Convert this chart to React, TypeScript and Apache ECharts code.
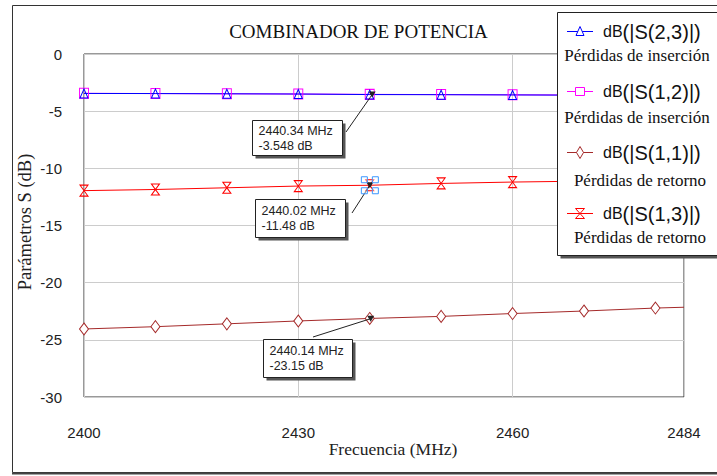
import React, { useEffect, useRef } from "react";
import * as echarts from "echarts";

// ---- data ----
const freqMHz = [2400, 2410, 2420, 2430, 2440, 2450, 2460, 2470, 2480, 2484];
const s23 = [-3.45, -3.46, -3.48, -3.5, -3.548, -3.56, -3.58, -3.6, -3.62, -3.63];
const s12 = [-3.44, -3.46, -3.48, -3.5, -3.53, -3.55, -3.57, -3.59, -3.61, -3.62];
const s11 = [-24.05, -23.85, -23.6, -23.35, -23.13, -22.95, -22.7, -22.48, -22.22, -22.15];
const s13 = [-11.95, -11.85, -11.7, -11.55, -11.48, -11.32, -11.2, -11.12, -11.05, -11.02];

const seriesNames = ["dB(|S(2,3)|)", "dB(|S(1,2)|)", "dB(|S(1,1)|)", "dB(|S(1,3)|)"];
const seriesNotes = ["Pérdidas de inserción", "Pérdidas de inserción", "Pérdidas de retorno", "Pérdidas de retorno"];
const seriesColors = ["#0000ff", "#ff00ff", "#a52a2a", "#ff0000"];

const markerFreq = [2440.34, 2440.02, 2440.14];
const markerVal = [-3.548, -11.48, -23.15];
const markerLabels = ["2440.34 MHz\n-3.548 dB", "2440.02 MHz\n-11.48 dB", "2440.14 MHz\n-23.15 dB"];

const titleText = "COMBINADOR DE POTENCIA";
const xName = "Frecuencia (MHz)";
const yName = "Parámetros S (dB)";

const HOURGLASS = "path://M0,0L10,0L0,10L10,10Z";

function mkData(vals: number[]) {
  return freqMHz.map((f, i) =>
    i === freqMHz.length - 1 ? { value: [f, vals[i]], symbol: "none" } : [f, vals[i]]
  );
}

const SANS = "Liberation Sans";
const SERIF = "Liberation Serif";

export default function App() {
  const ref = useRef<HTMLDivElement>(null);
  useEffect(() => {
    if (!ref.current) return;
    const chart = echarts.init(ref.current, null, { renderer: "svg" });
    const baseSeries = (name: string, vals: number[], color: string, symbol: string, size: number[], fill: string) => ({
      type: "line",
      name,
      data: mkData(vals),
      symbol,
      symbolSize: size,
      showAllSymbol: true,
      silent: true,
      itemStyle: { color: fill, borderColor: color, borderWidth: 1 },
      lineStyle: { color, width: 1 },
      emphasis: { disabled: true },
    });
    const option: any = {
      animation: false,
      backgroundColor: "#fff",
      title: {
        text: titleText,
        left: "center",
        top: 22,
        padding: [0, 0, 0, 17],
        textStyle: { fontFamily: SERIF, fontSize: 19, fontWeight: "normal", color: "#111" },
      },
      grid: { left: 84, top: 54, right: 33, bottom: 79, show: true, borderColor: "#333", borderWidth: 1, backgroundColor: "transparent" },
      xAxis: {
        type: "value",
        min: 2400,
        max: 2484,
        interval: 30,
        name: xName,
        nameLocation: "middle",
        nameGap: 43,
        nameMoveOverlap: false,
        nameTextStyle: { fontFamily: SERIF, fontSize: 17.5, color: "#222", padding: [0, 0, 0, 18] },
        axisLine: { show: false },
        axisTick: { show: false },
        axisLabel: { fontFamily: SANS, fontSize: 15, color: "#222", margin: 28, formatter: (v: number) => String(v) },
        splitLine: { show: true, lineStyle: { color: "#cccccc", width: 1 } },
      },
      yAxis: {
        type: "value",
        min: -30,
        max: 0,
        interval: 5,
        name: yName,
        nameLocation: "middle",
        nameGap: 50,
        nameMoveOverlap: false,
        nameTextStyle: { fontFamily: SERIF, fontSize: 18.5, color: "#222", padding: [0, 0, 0, 7] },
        axisLine: { show: false },
        axisTick: { show: false },
        axisLabel: { fontFamily: SANS, fontSize: 15, color: "#222", margin: 22, formatter: (v: number) => String(v) },
        splitLine: { show: true, lineStyle: { color: "#cccccc", width: 1 } },
      },
      series: [
        baseSeries(seriesNames[1], s12, seriesColors[1], "rect", [9, 10], "rgba(255,255,255,0)"),
        baseSeries(seriesNames[0], s23, seriesColors[0], "triangle", [8, 9], "rgba(255,255,255,0)"),
        baseSeries(seriesNames[2], s11, seriesColors[2], "diamond", [9, 12], "#ffffff"),
        baseSeries(seriesNames[3], s13, seriesColors[3], HOURGLASS, [8, 11], "rgba(255,255,255,0)"),
      ],
    };
    chart.setOption(option);

    const graphics: any[] = [];
    // outer frame
    graphics.push({ type: "rect", shape: { x: 12.5, y: 5.5, width: 720, height: 467 }, style: { fill: "none", stroke: "#333", lineWidth: 1 }, z: 1, silent: true });
    graphics.push({ type: "line", shape: { x1: 12, y1: 473.5, x2: 717, y2: 473.5 }, style: { stroke: "#444", lineWidth: 2 }, z: 1, silent: true });

    // markers (annotations)
    const offsets = [
      { dx: -120, dy: 25, w: 90, h: 35, lx: 346, ly: 132 },
      { dx: -115, dy: 14, w: 90, h: 38, lx: 352, ly: 213 },
      { dx: -108, dy: 20, w: 89, h: 38, lx: 313, ly: 337 },
    ];
    markerFreq.forEach((f, i) => {
      const p = chart.convertToPixel({ gridIndex: 0 }, [f, markerVal[i]]) as number[];
      const o = offsets[i];
      const bx = Math.round(p[0] + o.dx) + 0.5;
      const by = Math.round(p[1] + o.dy) + 0.5;
      graphics.push({ type: "line", shape: { x1: o.lx, y1: o.ly, x2: p[0], y2: p[1] }, style: { stroke: "#222", lineWidth: 1 }, z: 20, silent: true });
      graphics.push({ type: "polygon", shape: { points: [[p[0] - 3.5, p[1] - 3], [p[0] + 3.5, p[1] - 3], [p[0], p[1] + 3]] }, style: { fill: "#222" }, z: 20, silent: true });
      graphics.push({ type: "rect", shape: { x: bx + 3, y: by + 3, width: o.w, height: o.h }, style: { fill: "#555" }, z: 20, silent: true });
      graphics.push({ type: "rect", shape: { x: bx, y: by, width: o.w, height: o.h }, style: { fill: "#fff", stroke: "#222", lineWidth: 1 }, z: 21, silent: true });
      graphics.push({
        type: "text",
        x: bx + 6,
        y: by + o.h / 2,
        style: { text: markerLabels[i], font: `12.5px ${SANS}`, fill: "#222", textVerticalAlign: "middle", lineHeight: 15 },
        z: 22,
        silent: true,
      });
      if (i === 1) {
        [[-5.5, -5.5], [5.5, -5.5], [-5.5, 5.5], [5.5, 5.5]].forEach(([ox, oy]) => {
          graphics.push({ type: "rect", shape: { x: p[0] + ox - 3, y: p[1] + oy - 3, width: 6, height: 6 }, style: { fill: "rgba(255,255,255,0.4)", stroke: "#3a96ff", lineWidth: 1 }, z: 23, silent: true });
        });
      }
    });

    // legend box
    const LX = 557.5, LY = 12.5, LW = 200, LH = 243;
    graphics.push({ type: "rect", shape: { x: LX + 3, y: LY + 3, width: LW, height: LH }, style: { fill: "#555" }, z: 30, silent: true });
    graphics.push({ type: "rect", shape: { x: LX, y: LY, width: LW, height: LH }, style: { fill: "#fff", stroke: "#222", lineWidth: 1 }, z: 31, silent: true });
    const lineYs = [31, 91, 152, 213];
    const noteYs = [55, 117, 180, 237];
    const noteX = [637, 637, 640, 640];
    [0, 1, 2, 3].forEach((k, i) => {
      const y = lineYs[i] + 0.5;
      const c = seriesColors[k];
      graphics.push({ type: "line", shape: { x1: 567, y1: y, x2: 593, y2: y }, style: { stroke: c, lineWidth: 1 }, z: 32, silent: true });
      const cx = 580;
      let sym: any;
      if (k === 0) sym = { type: "polygon", shape: { points: [[cx - 4, y + 4], [cx + 4, y + 4], [cx, y - 5]] } };
      else if (k === 1) sym = { type: "rect", shape: { x: cx - 4.5, y: y - 4, width: 9, height: 8 } };
      else if (k === 2) sym = { type: "polygon", shape: { points: [[cx, y - 6], [cx + 3.5, y], [cx, y + 6], [cx - 3.5, y]] } };
      else sym = { type: "polygon", shape: { points: [[cx - 4.5, y - 5], [cx + 4.5, y - 5], [cx - 4.5, y + 5], [cx + 4.5, y + 5]] } };
      sym.style = { fill: "#fff", stroke: c, lineWidth: 1 };
      sym.z = 33;
      sym.silent = true;
      graphics.push(sym);
      const nm = seriesNames[k];
      graphics.push({
        type: "text",
        x: 603,
        y: y,
        style: {
          text: `{a|dB}{b|${nm.slice(2)}}`,
          fill: "#111",
          textVerticalAlign: "middle",
          rich: {
            a: { fontFamily: SANS, fontSize: 16, fill: "#111" },
            b: { fontFamily: SANS, fontSize: 20, fill: "#111" },
          },
        },
        z: 33,
        silent: true,
      });
      graphics.push({
        type: "text",
        x: noteX[i],
        y: noteYs[i],
        style: { text: seriesNotes[k], font: `17px ${SERIF}`, fill: "#111", textAlign: "center", textVerticalAlign: "middle" },
        z: 33,
        silent: true,
      });
    });

    chart.setOption({ graphic: graphics });
    return () => chart.dispose();
  }, []);
  return <div ref={ref} style={{ position: "fixed", left: 0, top: 0, width: 717, height: 476 }} />;
}
